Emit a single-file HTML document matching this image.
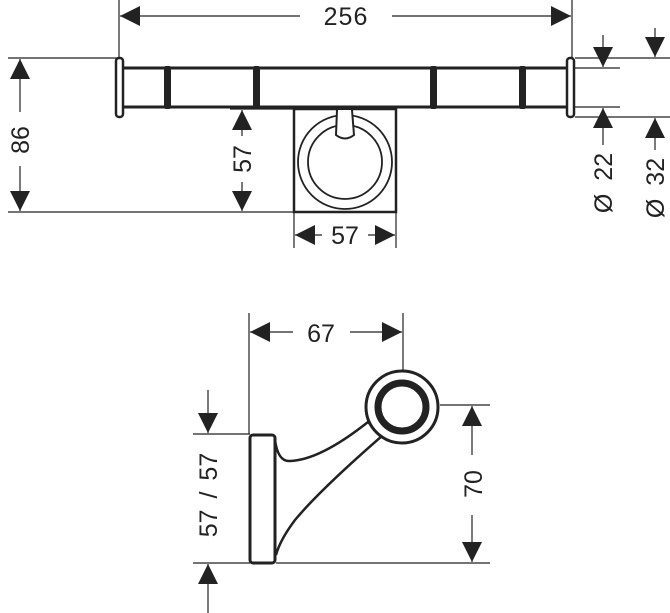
<!DOCTYPE html>
<html><head><style>html,body{margin:0;padding:0;background:#fff}svg{display:block}</style></head>
<body>
<svg width="670" height="613" viewBox="0 0 670 613" xmlns="http://www.w3.org/2000/svg" font-family="Liberation Sans, sans-serif">
<defs>
<marker id="a" viewBox="0 0 10 10" refX="10" refY="5" markerWidth="20" markerHeight="20" markerUnits="userSpaceOnUse" orient="auto-start-reverse"><path d="M0,0 L10,5 L0,10z" fill="#222"/></marker>
</defs>
<g stroke="#222" stroke-width="1.2" fill="none">
<line x1="119" y1="0" x2="119" y2="58"/><line x1="572" y1="0" x2="572" y2="58"/>
<line x1="120" y1="16" x2="300" y2="16" marker-start="url(#a)"/><line x1="392" y1="16" x2="571" y2="16" marker-end="url(#a)"/>
<line x1="8" y1="58" x2="118" y2="58"/><line x1="8" y1="212" x2="294" y2="212"/>
<line x1="20" y1="59" x2="20" y2="112" marker-start="url(#a)"/><line x1="20" y1="166" x2="20" y2="211" marker-end="url(#a)"/>
<line x1="230" y1="109" x2="294" y2="109"/>
<line x1="242" y1="110" x2="242" y2="136" marker-start="url(#a)"/><line x1="242" y1="182" x2="242" y2="211" marker-end="url(#a)"/>
<line x1="294" y1="212" x2="294" y2="248"/><line x1="396" y1="212" x2="396" y2="248"/>
<line x1="295" y1="235" x2="322" y2="235" marker-start="url(#a)"/><line x1="368" y1="235" x2="395" y2="235" marker-end="url(#a)"/>
<line x1="575" y1="68" x2="620" y2="68"/><line x1="575" y1="107" x2="620" y2="107"/>
<line x1="575" y1="58" x2="670" y2="58"/><line x1="575" y1="117" x2="670" y2="117"/>
<line x1="603" y1="35" x2="603" y2="67" marker-end="url(#a)"/><line x1="603" y1="108" x2="603" y2="145" marker-start="url(#a)"/>
<line x1="655" y1="28" x2="655" y2="57" marker-end="url(#a)"/><line x1="655" y1="118" x2="655" y2="150" marker-start="url(#a)"/>
</g>
<g stroke="#222" stroke-width="3" fill="#fff">
<rect x="120" y="68" width="450" height="39"/>
<rect x="116" y="58" width="7" height="59" rx="3" stroke-width="2.5"/>
<rect x="567" y="58" width="7" height="59" rx="3" stroke-width="2.5"/>
<rect x="294" y="109" width="102" height="103" stroke-width="2.5"/>
</g>
<g fill="#222"><rect x="164" y="66" width="7" height="43" rx="2"/><rect x="253" y="66" width="7" height="43" rx="2"/><rect x="430" y="66" width="7" height="43" rx="2"/><rect x="519" y="66" width="7" height="43" rx="2"/></g>
<g stroke="#222" stroke-width="1.8" fill="none">
<circle cx="345" cy="162" r="47"/><circle cx="345" cy="162" r="37"/>
</g>
<path d="M337,110 L336,135 Q345,142 354,135 L352,110" fill="#fff" stroke="#222" stroke-width="2"/>
<g font-size="25" fill="#222">
<text x="346" y="25" text-anchor="middle" letter-spacing="1">256</text>
<text transform="translate(29,140) rotate(-90)" text-anchor="middle">86</text>
<text transform="translate(251,159) rotate(-90)" text-anchor="middle">57</text>
<text x="345" y="244" text-anchor="middle">57</text>
<text transform="translate(612,183) rotate(-90)" text-anchor="middle" word-spacing="6">Ø 22</text>
<text transform="translate(664,188) rotate(-90)" text-anchor="middle" word-spacing="6">Ø 32</text>
<text x="321" y="342" text-anchor="middle">67</text>
<text transform="translate(482,484) rotate(-90)" text-anchor="middle">70</text>
<text transform="translate(217,495) rotate(-90)" text-anchor="middle" word-spacing="4">57 / 57</text>
</g>
<g stroke="#222" stroke-width="1.2" fill="none">
<line x1="249" y1="313" x2="249" y2="434"/><line x1="403" y1="313" x2="403" y2="372"/>
<line x1="250" y1="332" x2="293" y2="332" marker-start="url(#a)"/><line x1="350" y1="332" x2="402" y2="332" marker-end="url(#a)"/>
<line x1="440" y1="405" x2="490" y2="405"/><line x1="276" y1="563" x2="490" y2="563"/>
<line x1="472" y1="406" x2="472" y2="455" marker-start="url(#a)"/><line x1="472" y1="515" x2="472" y2="562" marker-end="url(#a)"/>
<line x1="193" y1="434" x2="250" y2="434"/><line x1="193" y1="563" x2="250" y2="563"/>
<line x1="208" y1="390" x2="208" y2="433" marker-end="url(#a)"/><line x1="208" y1="564" x2="208" y2="613" marker-start="url(#a)"/>
</g>
<path d="M275,440 Q278,462 290,461 Q320,460 368,422 L382,436 Q320,490 295,520 Q280,540 276,555" fill="#fff" stroke="#222" stroke-width="2.5"/>
<rect x="250" y="435" width="25" height="128" rx="3" fill="#fff" stroke="#222" stroke-width="3"/>
<circle cx="402" cy="407" r="36" fill="#fff" stroke="#222" stroke-width="3"/>
<circle cx="402" cy="407" r="24" fill="#fff" stroke="#222" stroke-width="7"/>
</svg>
</body></html>
